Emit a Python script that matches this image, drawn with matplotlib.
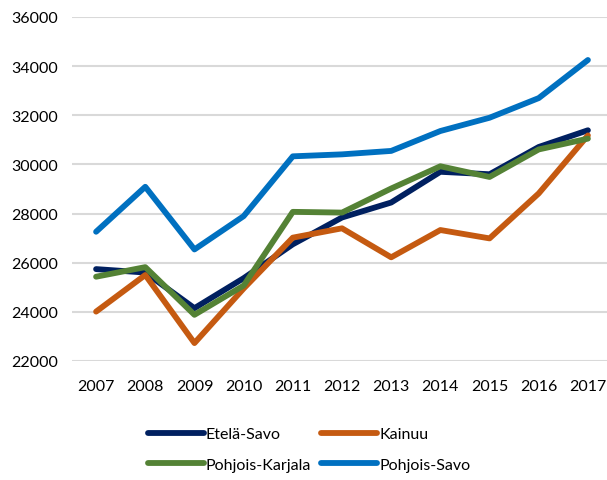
import matplotlib.pyplot as plt

years = [2007, 2008, 2009, 2010, 2011, 2012, 2013, 2014, 2015, 2016, 2017]
etela_savo = [25740, 25600, 24150, 25370, 26750, 27840, 28450, 29700, 29600, 30710, 31390]
kainuu = [24010, 25500, 22730, 24950, 27020, 27400, 26220, 27330, 26990, 28820, 31180]
pohjois_karjala = [25430, 25820, 23880, 25070, 28070, 28040, 29020, 29925, 29490, 30610, 31050]
pohjois_savo = [27260, 29090, 26540, 27895, 30330, 30410, 30550, 31360, 31900, 32700, 34250]
y_ticks = [22000, 24000, 26000, 28000, 30000, 32000, 34000, 36000]


def main():
    """Line chart of four regions 2007-2017"""
    plt.rcParams['font.family'] = ['Lato', 'DejaVu Sans']
    fig = plt.figure(figsize=(6.07, 4.81), dpi=100)
    ax = fig.add_axes([71.5 / 607, 1 - 362 / 481, 541 / 607, 344 / 481])

    series = [
        ("Etelä-Savo", etela_savo, "#002060"),
        ("Kainuu", kainuu, "#C55A11"),
        ("Pohjois-Karjala", pohjois_karjala, "#548235"),
        ("Pohjois-Savo", pohjois_savo, "#0070C0"),
    ]
    lines = {}
    for name, vals, col in series:
        ln, = ax.plot(years, vals, color=col, lw=4.2, label=name,
                      solid_capstyle='round', solid_joinstyle='round')
        lines[name] = ln

    ax.set_xlim(2006.5, 2017.5)
    ax.set_ylim(22000, 36000)
    ax.set_yticks(y_ticks)
    ax.set_xticks(years)
    ax.yaxis.grid(True, color="#D9D9D9", lw=1.5)
    ax.set_axisbelow(True)
    for s in ax.spines.values():
        s.set_visible(False)
    ax.tick_params(length=0, labelsize=11.5, colors="#000000")
    ax.tick_params(axis='x', pad=13)
    ax.tick_params(axis='y', pad=10)

    # legend filled row by row, as in the original
    order = ["Etelä-Savo", "Pohjois-Karjala", "Kainuu", "Pohjois-Savo"]
    fig.legend([lines[n] for n in order], order,
               loc='center', bbox_to_anchor=(309 / 607, 1 - 450.5 / 481),
               ncol=2, frameon=False, fontsize=11.5, handlelength=3.5,
               handletextpad=0.15, columnspacing=0.6, labelspacing=1.05)

    fig.savefig("out.png", dpi=100)


if __name__ == "__main__":
    main()
